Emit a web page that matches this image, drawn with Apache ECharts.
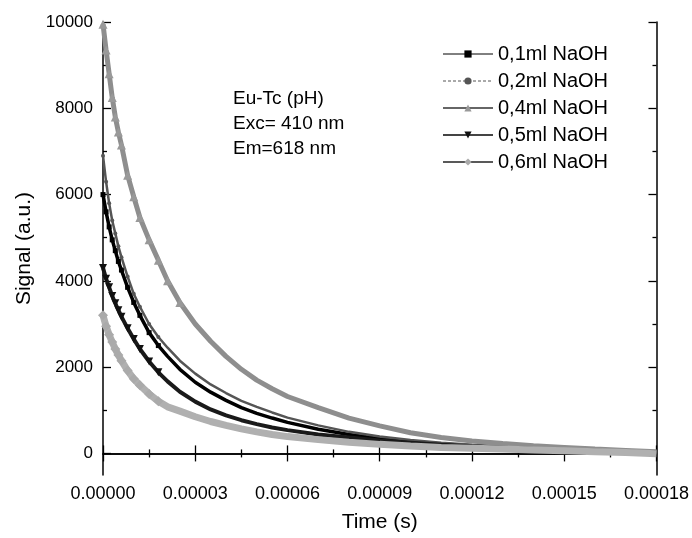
<!DOCTYPE html>
<html>
<head>
<meta charset="utf-8">
<script src="https://cdn.jsdelivr.net/npm/echarts@6/dist/echarts.min.js"></script>
<style>
  html, body { margin: 0; padding: 0; background: #fff; }
  #main { width: 692px; height: 538px; }
</style>
</head>
<body>
<div id="main"></div>
<script>
var timeS = [0, 0.000001, 0.000002, 0.000003, 0.000004, 0.000005, 0.000006, 0.000008,
  0.00001, 0.000012, 0.000015, 0.000018, 0.000021, 0.000025, 0.00003, 0.000035,
  0.00004, 0.000045, 0.00005, 0.000055, 0.00006, 0.00007, 0.00008, 0.00009,
  0.0001, 0.00011, 0.00012, 0.00013, 0.00014, 0.00015, 0.00016, 0.00017, 0.00018];

var naoh01 = [6000, 5600, 5250, 4950, 4700, 4450, 4250, 3850, 3500, 3200, 2800, 2500, 2250, 1950,
  1650, 1420, 1230, 1060, 930, 820, 720, 560, 440, 340, 270, 220, 180, 140, 110, 90, 70, 50, 30];
var naoh02 = [6900, 6300, 5800, 5400, 5100, 4800, 4550, 4100, 3700, 3400, 3000, 2700, 2450, 2150,
  1850, 1600, 1400, 1220, 1080, 950, 830, 650, 500, 390, 310, 250, 200, 160, 130, 100, 80, 60, 40];
var naoh04 = [9950, 9350, 8800, 8250, 7800, 7450, 7150, 6450, 5950, 5470, 4950, 4480, 4000, 3500,
  3000, 2600, 2250, 1950, 1700, 1500, 1320, 1060, 820, 640, 480, 370, 290, 230, 180, 140, 100, 70, 40];
var naoh05 = [4300, 4050, 3850, 3650, 3480, 3320, 3170, 2900, 2650, 2420, 2130, 1880, 1670, 1430,
  1200, 1020, 880, 770, 680, 600, 540, 440, 370, 300, 250, 200, 160, 130, 100, 80, 60, 40, 20];
var naoh06 = [3200, 2950, 2750, 2580, 2420, 2280, 2150, 1920, 1730, 1580, 1380, 1210, 1080, 980,
  850, 740, 650, 570, 500, 440, 390, 320, 260, 210, 170, 140, 120, 100, 80, 60, 40, 20, -10];

var seriesNames = ['0,1ml NaOH', '0,2ml NaOH', '0,4ml NaOH', '0,5ml NaOH', '0,6ml NaOH'];
var yLabelValues = [0, 2000, 4000, 6000, 8000, 10000];
var yMinorValues = [1000, 3000, 5000, 7000, 9000];

function pairs(vals) {
  var out = [];
  for (var i = 0; i < timeS.length; i++) out.push([timeS[i], vals[i]]);
  return out;
}
// markers only where the original scatter shows separate points
function early(limit, size) {
  return function (v) { return v[0] <= limit ? size : 0; };
}

var FONT = 'Liberation Sans, Arial, sans-serif';
var myChart = echarts.init(document.getElementById('main'));

var tickLine = { color: '#000', width: 1.3 };

var option = {
  animation: false,
  backgroundColor: '#fff',
  textStyle: { fontFamily: FONT },
  grid: { left: 103, right: 34, top: 22, bottom: 62 },
  legend: {
    orient: 'vertical',
    left: 442,
    top: 44,
    padding: 0,
    itemWidth: 50,
    itemHeight: 9,
    itemGap: 7,
    textStyle: { fontSize: 20, color: '#000', fontFamily: FONT, lineHeight: 20 },
    data: [
      { name: seriesNames[0], lineStyle: { color: '#000', width: 1, type: 'solid' } },
      { name: seriesNames[1], lineStyle: { color: '#555', width: 1, type: [3, 2] } },
      { name: seriesNames[2], lineStyle: { color: '#333', width: 1.5, type: 'solid' } },
      { name: seriesNames[3], lineStyle: { color: '#444', width: 2, type: 'solid' } },
      { name: seriesNames[4], lineStyle: { color: '#222', width: 1.5, type: 'solid' } }
    ]
  },
  xAxis: [{
    type: 'value',
    min: 0,
    max: 0.00018,
    interval: 0.00003,
    name: 'Time (s)',
    nameLocation: 'middle',
    nameGap: 37,
    nameTextStyle: { fontSize: 21, color: '#000', fontFamily: FONT },
    axisLine: { lineStyle: { color: '#000', width: 1.5 } },
    axisTick: { inside: true, length: 8, lineStyle: tickLine },
    minorTick: { show: true, splitNumber: 2, length: 4, lineStyle: tickLine },
    splitLine: { show: false },
    axisLabel: {
      fontSize: 18, color: '#000', margin: 10, fontFamily: FONT,
      formatter: function (v) { return v.toFixed(5); }
    }
  }, {
    type: 'value',
    position: 'top',
    min: 0,
    max: 0.00018,
    interval: 0.00003,
    axisLine: { lineStyle: { color: '#000', width: 1.5 } },
    axisTick: { inside: true, length: 8, lineStyle: tickLine },
    minorTick: { show: true, splitNumber: 2, length: 4, lineStyle: tickLine },
    splitLine: { show: false },
    axisLabel: { show: false }
  }],
  yAxis: [{
    type: 'value',
    min: -500,
    max: 10000,
    name: 'Signal (a.u.)',
    nameLocation: 'middle',
    nameGap: 66,
    nameTextStyle: { fontSize: 21, color: '#000', fontFamily: FONT },
    axisLine: { lineStyle: { color: '#000', width: 1.5 } },
    axisTick: { inside: true, length: 8, lineStyle: tickLine, customValues: yLabelValues },
    splitLine: { show: false },
    axisLabel: {
      fontSize: 17, color: '#000', margin: 10, fontFamily: FONT, customValues: yLabelValues,
      formatter: function (v) { return String(v); }
    }
  }, {
    type: 'value',
    position: 'left',
    offset: 0,
    min: -500,
    max: 10000,
    axisLine: { show: false },
    axisTick: { inside: true, length: 4, lineStyle: tickLine, customValues: yMinorValues },
    splitLine: { show: false },
    axisLabel: { show: false }
  }, {
    type: 'value',
    position: 'right',
    min: -500,
    max: 10000,
    axisLine: { show: true, lineStyle: { color: '#000', width: 1.5 } },
    axisTick: { inside: true, length: 8, lineStyle: tickLine, customValues: yLabelValues },
    splitLine: { show: false },
    axisLabel: { show: false }
  }, {
    type: 'value',
    position: 'right',
    offset: 0,
    min: -500,
    max: 10000,
    axisLine: { show: false },
    axisTick: { inside: true, length: 4, lineStyle: tickLine, customValues: yMinorValues },
    splitLine: { show: false },
    axisLabel: { show: false }
  }],
  graphic: [{
    type: 'group',
    left: 233,
    top: 89,
    children: [
      { type: 'text', x: 0, y: 0, style: { text: 'Eu-Tc (pH)', font: '19px ' + FONT, fill: '#000' } },
      { type: 'text', x: 0, y: 25, style: { text: 'Exc= 410 nm', font: '19px ' + FONT, fill: '#000' } },
      { type: 'text', x: 0, y: 50, style: { text: 'Em=618 nm', font: '19px ' + FONT, fill: '#000' } }
    ]
  }],
  series: [{
    name: seriesNames[0],
    type: 'line',
    data: pairs(naoh01),
    symbol: 'rect',
    symbolSize: early(0.00002, 5),
    showAllSymbol: true,
    lineStyle: { color: '#000', width: 3.5 },
    itemStyle: { color: '#000' },
    z: 2
  }, {
    name: seriesNames[1],
    type: 'line',
    data: pairs(naoh02),
    symbol: 'circle',
    symbolSize: early(0.00002, 4),
    showAllSymbol: true,
    lineStyle: { color: '#555', width: 2.5 },
    itemStyle: { color: '#555' },
    z: 3
  }, {
    name: seriesNames[2],
    type: 'line',
    data: pairs(naoh04),
    symbol: 'triangle',
    symbolSize: early(0.000025, 9),
    showAllSymbol: true,
    lineStyle: { color: '#8e8e8e', width: 5 },
    itemStyle: { color: '#999' },
    z: 4
  }, {
    name: seriesNames[3],
    type: 'line',
    data: pairs(naoh05),
    symbol: 'triangle',
    symbolRotate: 180,
    symbolSize: early(0.00002, 8),
    showAllSymbol: true,
    lineStyle: { color: '#1a1a1a', width: 4 },
    itemStyle: { color: '#111' },
    z: 5
  }, {
    name: seriesNames[4],
    type: 'line',
    data: pairs(naoh06),
    symbol: 'diamond',
    symbolSize: early(0.00002, 10),
    showAllSymbol: true,
    lineStyle: { color: '#b0b0b0', width: 7 },
    itemStyle: { color: '#aaa' },
    z: 6
  }]
};

myChart.setOption(option);
</script>
</body>
</html>
